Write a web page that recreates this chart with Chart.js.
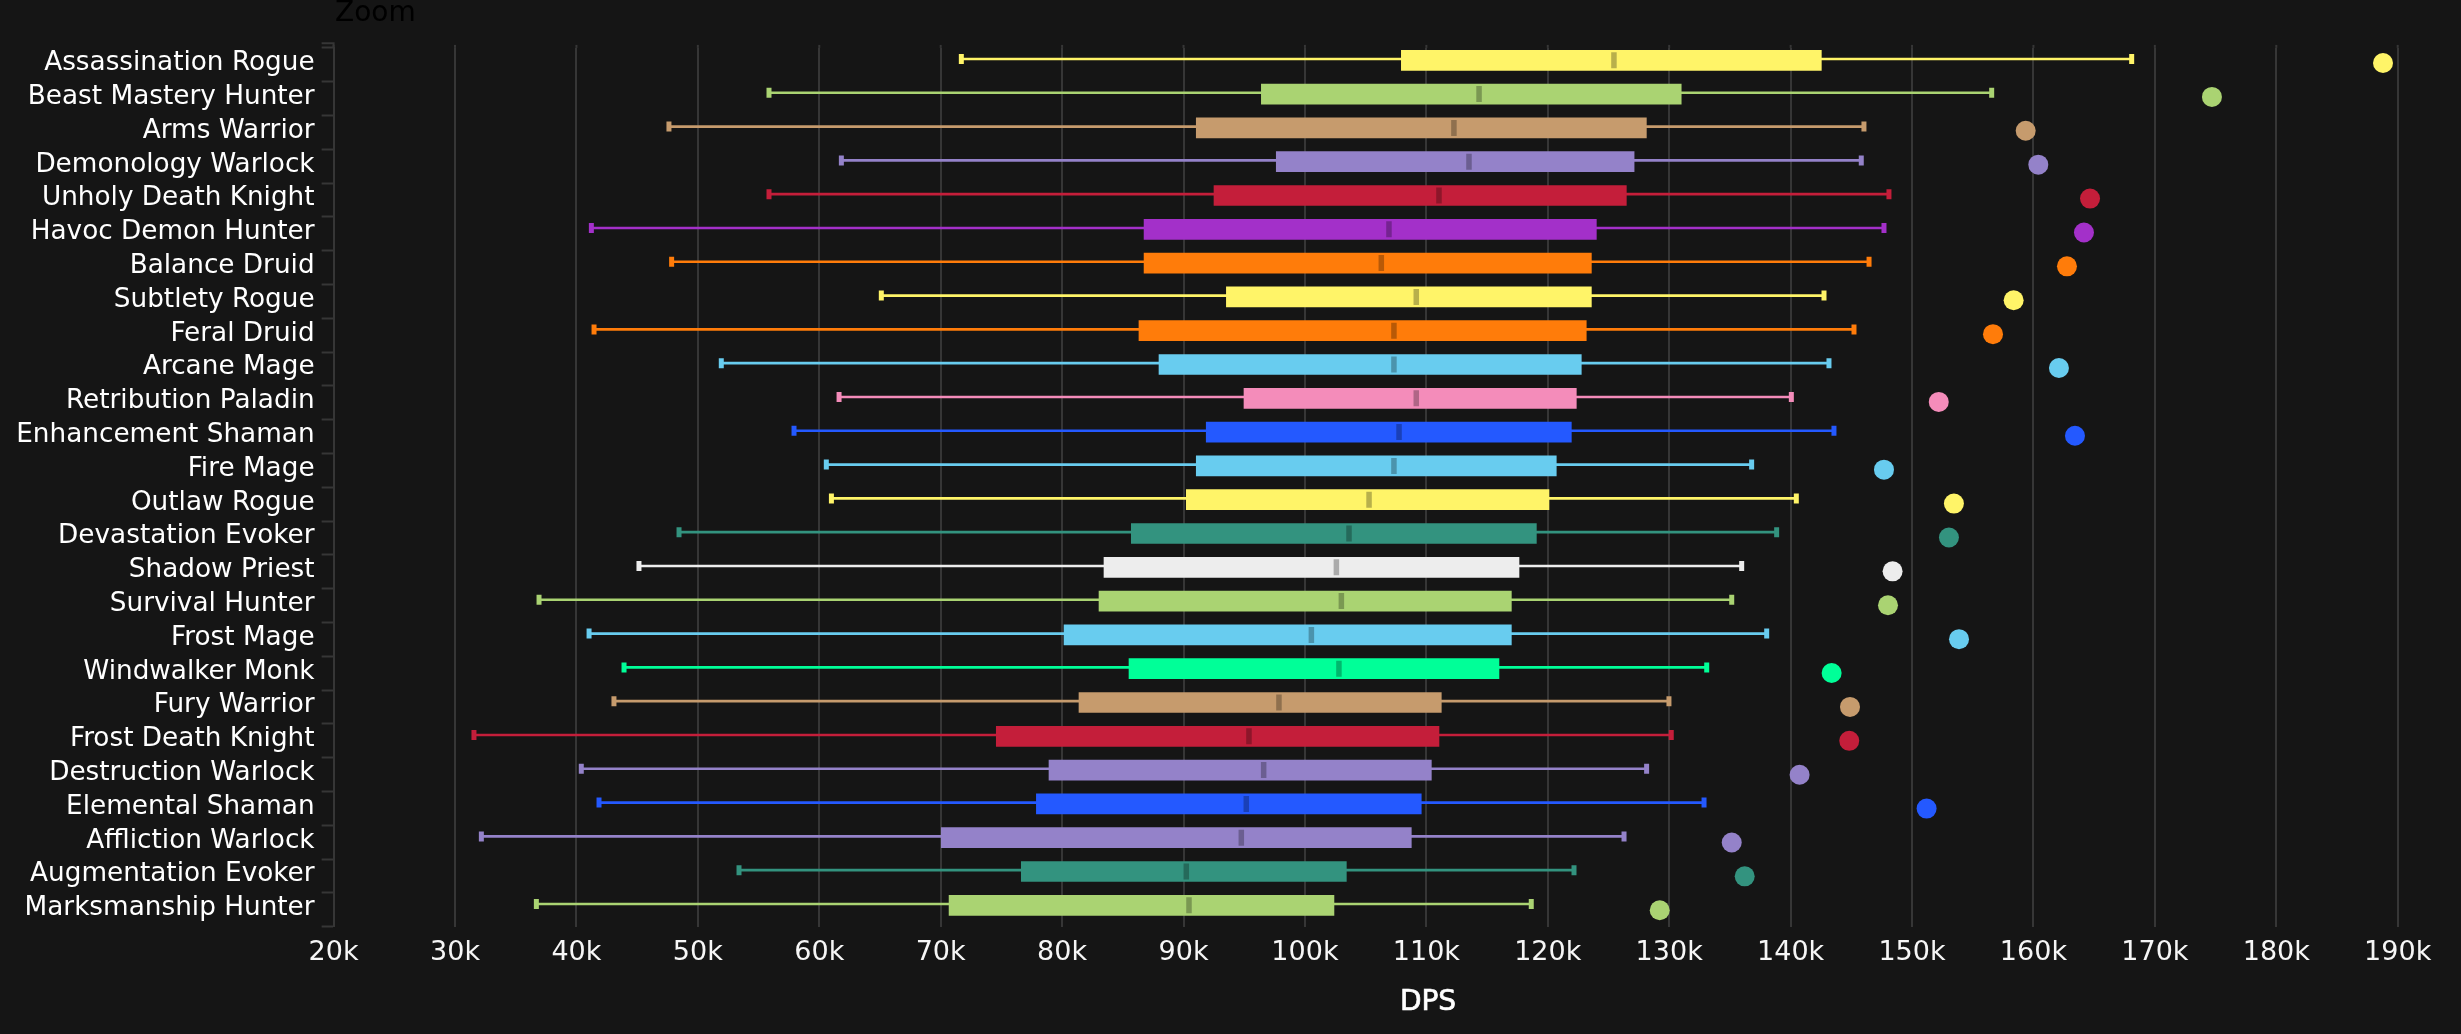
<!DOCTYPE html>
<html><head><meta charset="utf-8">
<style>html,body{margin:0;padding:0;background:#151515}canvas{display:block}</style>
<script src="https://cdn.jsdelivr.net/npm/chart.js@4/dist/chart.umd.min.js"></script>
</head><body><canvas id="c" width="2461" height="1034" style="width:2461px;height:1034px"></canvas>
<script>
const categories = ["Assassination Rogue","Beast Mastery Hunter","Arms Warrior","Demonology Warlock","Unholy Death Knight","Havoc Demon Hunter","Balance Druid","Subtlety Rogue","Feral Druid","Arcane Mage","Retribution Paladin","Enhancement Shaman","Fire Mage","Outlaw Rogue","Devastation Evoker","Shadow Priest","Survival Hunter","Frost Mage","Windwalker Monk","Fury Warrior","Frost Death Knight","Destruction Warlock","Elemental Shaman","Affliction Warlock","Augmentation Evoker","Marksmanship Hunter"];
const lowWhisker = [71700,55860,47620,61820,55860,41230,47840,65110,41450,51930,61630,57920,60580,61000,48450,45150,36920,41040,43920,43090,31560,40400,41860,32170,53390,36700];
const q1 = [107940,96410,91050,97640,92510,86750,86750,93530,86330,87980,94980,91870,91050,90230,85700,83450,83040,80160,85510,81390,74580,78920,77880,70050,76640,70690];
const median = [125450,114340,112270,113510,111040,106920,106290,109170,107330,107330,109170,107750,107330,105280,103630,102590,103000,100530,102800,97860,95390,96600,95170,94760,90230,90450];
const q3 = [142530,130990,128120,127110,126470,124000,123590,123590,123170,122760,122350,121940,120700,120100,119060,117630,117000,117000,115980,111230,111040,110410,109580,108760,103410,102390];
const highWhisker = [168090,156560,146040,145820,148100,147690,146460,142750,145220,143160,140060,143570,136790,140470,138850,135970,135150,138030,133090,129980,130170,128140,132870,126280,122160,118640];
const topPercentile = [188790,174700,159360,160400,164660,164160,162760,158370,156670,162100,152200,163420,147690,153450,153040,148400,148020,153870,143380,144890,144830,140740,151200,135150,136220,129220];
const classColors = ["#FFF468","#AAD372","#C69B6D","#9482C9","#C41E3A","#A330C9","#FF7C0A","#FFF468","#FF7C0A","#68CCEF","#F48CBA","#2459FF","#68CCEF","#FFF468","#33937F","#EDEDED","#AAD372","#68CCEF","#00FF98","#C69B6D","#C41E3A","#9482C9","#2459FF","#9482C9","#33937F","#AAD372"];
const medianColors = classColors.map(c => {
  const n = parseInt(c.slice(1), 16);
  const f = v => Math.round(v * 0.72);
  return `rgb(${f(n >> 16)},${f((n >> 8) & 255)},${f(n & 255)})`;
});
const axisTitle = "DPS";
const zoomLabel = "Zoom";

const FONT = '"DejaVu Sans"';
const GRID = '#363636';
const rows = a => a.map((v, i) => ({ x: v, y: i }));
const ranges = (a, b) => a.map((v, i) => ({ x: [v, b[i]], y: i }));
const markers = (data, yAxisID, colors, radius, width, order) => ({
  type: 'scatter', data: rows(data), xAxisID: 'x', yAxisID,
  pointStyle: 'line', rotation: 90, radius, hoverRadius: radius,
  borderWidth: width, hoverBorderWidth: width, pointBorderWidth: width,
  borderColor: colors, pointBorderColor: colors, backgroundColor: colors, showLine: false, order
});
const rowAxis = (min, max) => ({ type: 'linear', axis: 'y', display: false, reverse: true, offset: false, grid: { offset: false }, beginAtZero: false, min, max });
const textPlugin = {
  id: 'extras',
  beforeDatasetsDraw(chart) {
    const { ctx, scales: { x }, chartArea: a } = chart;
    ctx.save();
    ctx.strokeStyle = GRID; ctx.lineWidth = 2;
    x.ticks.forEach(t => {
      const px = x.getPixelForValue(t.value);
      ctx.beginPath(); ctx.moveTo(px, a.top - 3); ctx.lineTo(px, a.top); ctx.stroke();
    });
    ctx.beginPath(); ctx.moveTo(a.left - 12, a.top - 4.6); ctx.lineTo(a.left, a.top - 4.6); ctx.lineTo(a.left, a.top); ctx.stroke();
    ctx.restore();
  },
  afterDraw(chart) {
    const { ctx } = chart;
    ctx.save();
    ctx.textBaseline = 'alphabetic'; ctx.textAlign = 'center';
    ctx.fillStyle = '#ffffff'; ctx.strokeStyle = '#ffffff'; ctx.lineWidth = 0.7; ctx.font = `28px ${FONT}`;
    ctx.fillText(axisTitle, 1428, 1010);
    ctx.strokeText(axisTitle, 1428, 1010);
    ctx.textAlign = 'left'; ctx.fillStyle = '#000'; ctx.font = `28px ${FONT}`;
    ctx.fillText(zoomLabel, 335, 21);
    ctx.restore();
  }
};
new Chart(document.getElementById('c'), {
  data: {
    labels: categories,
    datasets: [
      { type: 'bar', indexAxis: 'y', data: ranges(lowWhisker, highWhisker), xAxisID: 'x', yAxisID: 'yWhisker',
        backgroundColor: classColors, barThickness: 2, order: 5 },
      markers(lowWhisker, 'yWhisker', classColors, 5, 5, 4),
      markers(highWhisker, 'yWhisker', classColors, 5, 5, 4),
      { type: 'bar', indexAxis: 'y', data: ranges(q1, q3), xAxisID: 'x', yAxisID: 'yBox',
        backgroundColor: classColors, barThickness: 20, order: 3 },
      markers(median, 'yBox', medianColors, 8, 5.5, 2),
      { type: 'scatter', data: rows(topPercentile), xAxisID: 'x', yAxisID: 'yDot',
        pointStyle: 'circle', radius: 10, hoverRadius: 10, borderWidth: 0, pointBorderWidth: 0,
        backgroundColor: classColors, pointBackgroundColor: classColors, showLine: false, order: 1 }
    ]
  },
  options: {
    responsive: false, animation: false, devicePixelRatio: 1,
    datasets: { bar: { indexAxis: 'y' } },
    layout: { padding: { left: 0, right: 63.3, top: 47.9, bottom: 0 } },
    plugins: { legend: { display: false }, tooltip: { enabled: false }, title: { display: false } },
    events: [],
    scales: {
      x: {
        type: 'linear', position: 'bottom', min: 20000, max: 190000,
        afterFit(s) { s.height = 107.3; },
        border: { display: false },
        grid: { color: GRID, lineWidth: 2, drawTicks: false },
        ticks: { stepSize: 10000, color: '#f6f6f6', font: { family: FONT, size: 27 }, padding: 10, maxRotation: 0, autoSkip: false,
          callback: v => (v / 1000) + 'k' }
      },
      y: {
        type: 'category', position: 'left', labels: categories, offset: true,
        afterFit(s) { s.width = 333.6; },
        border: { display: true, color: GRID, width: 2 },
        grid: { offset: true, drawOnChartArea: false, drawTicks: true, tickLength: 12, tickWidth: 2, color: GRID },
        ticks: { color: '#ffffff', font: { family: FONT, size: 26.3 }, padding: 7, autoSkip: false, labelOffset: -1.5, crossAlign: 'near' }
      },
      yWhisker: rowAxis(-0.328, 25.672),
      yBox: rowAxis(-0.367, 25.633),
      yDot: rowAxis(-0.4456, 25.485)
    }
  },
  plugins: [textPlugin]
});
</script></body></html>
